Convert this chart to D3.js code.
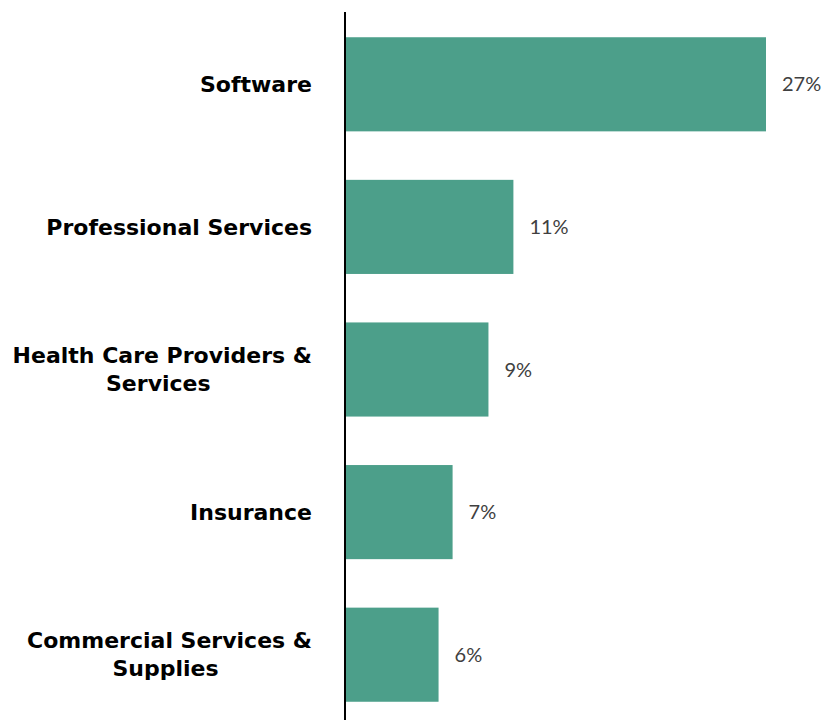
<!DOCTYPE html>
<html>
<head>
<meta charset="utf-8">
<script src="https://cdn.jsdelivr.net/npm/d3@7"></script>
<style>
  body { margin: 0; background: #fff; }
</style>
</head>
<body>
<div id="chart"></div>
<script>
const categories = [
  ["Software"],
  ["Professional Services"],
  ["Health Care Providers &", "Services"],
  ["Insurance"],
  ["Commercial Services &", "Supplies"]
];
const values = [27.0, 10.8, 9.2, 6.9, 6.0];
const valueLabels = ["27%", "11%", "9%", "7%", "6%"];

const width = 824, height = 720;
const axisX = 345;

const svg = d3.select("#chart")
  .append("svg")
  .attr("width", width)
  .attr("height", height);

const x = d3.scaleLinear()
  .domain([0, 27])
  .range([axisX, 766]);

const y = d3.scaleBand()
  .domain(d3.range(values.length))
  .range([13, 726])
  .paddingInner(0.34)
  .paddingOuter(0.17);

svg.selectAll("rect.bar")
  .data(values)
  .enter()
  .append("rect")
  .attr("class", "bar")
  .attr("x", axisX)
  .attr("y", (d, i) => y(i))
  .attr("width", d => x(d) - axisX)
  .attr("height", y.bandwidth())
  .attr("fill", "#4c9f8a");

svg.selectAll("text.val")
  .data(values)
  .enter()
  .append("text")
  .attr("class", "val")
  .attr("x", d => x(d) + 16)
  .attr("y", (d, i) => y(i) + y.bandwidth() / 2)
  .attr("dy", "0.35em")
  .attr("font-family", "Lato, 'Open Sans', sans-serif")
  .attr("font-size", 20)
  .attr("fill", "#404040")
  .text((d, i) => valueLabels[i]);

const lineH = 28;
const cats = svg.selectAll("text.cat")
  .data(categories)
  .enter()
  .append("text")
  .attr("class", "cat")
  .attr("text-anchor", "end")
  .attr("font-family", "'DejaVu Sans', sans-serif")
  .attr("font-weight", "bold")
  .attr("font-size", 22)
  .attr("fill", "#000");

cats.each(function(lines, i) {
  const cy = y(i) + y.bandwidth() / 2;
  const top = cy - (lines.length - 1) * lineH / 2;
  d3.select(this).selectAll("tspan")
    .data(lines)
    .enter()
    .append("tspan")
    .attr("x", 312)
    .attr("y", (d, j) => top + j * lineH)
    .attr("dy", "0.35em")
    .text(d => d);
});

// second lines sit centred under the first line
cats.each(function(lines) {
  if (lines.length < 2) return;
  const spans = d3.select(this).selectAll("tspan").nodes();
  const w0 = spans[0].getComputedTextLength();
  const w1 = spans[1].getComputedTextLength();
  d3.select(spans[1]).attr("x", 312 - (w0 - w1) / 2 - 4);
});

svg.append("line")
  .attr("x1", axisX)
  .attr("x2", axisX)
  .attr("y1", 12)
  .attr("y2", height)
  .attr("stroke", "#000")
  .attr("stroke-width", 2);
</script>
</body>
</html>
